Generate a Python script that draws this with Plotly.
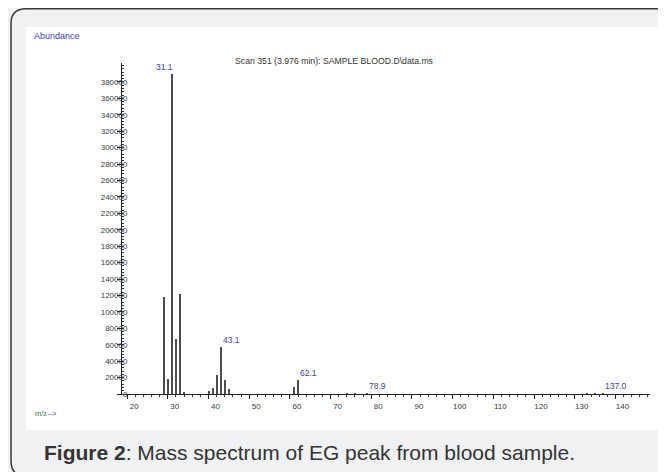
import plotly.graph_objects as go

# ---- data ----
mz = [29.1, 30.1, 31.1, 32.1, 33.0, 34.0,
      40.1, 41.1, 42.1, 43.1, 44.1, 45.1,
      61.1, 62.1, 74.0, 76.0, 78.9, 133.0, 135.0, 137.0]
abundance = [118000, 18500, 390000, 67000, 122000, 1500,
             4000, 7300, 23600, 57300, 16700, 6100,
             8100, 16700, 600, 700, 1200, 600, 700, 1200]
peak_labels_mz = [31.1, 43.1, 62.1, 78.9, 137.0]
peak_labels_ab = [390000, 57300, 16700, 1200, 1200]
peak_label_text = ["31.1", "43.1", "62.1", "78.9", "137.0"]
y_tick_values = list(range(0, 380001, 20000))

title_text = "Scan 351 (3.976 min): SAMPLE BLOOD.D\\data.ms"
caption = "<b>Figure 2</b>: Mass spectrum of EG peak from blood sample."

# ---- geometry (the page has an 8px body margin) ----
OFF = 8
W, H = 658, 464
L, R, T, B = 114, 16, 55, 78
PW, PH = W - L - R, H - T - B
def px(x):      # page pixel -> paper
    return (x - OFF - L) / PW
def py(y):
    return (H - B - (y - OFF)) / PH

fig = go.Figure()
fig.add_trace(go.Bar(x=mz, y=abundance, width=0.38,
                     marker=dict(color="#4d4d4d", line=dict(width=0)),
                     hoverinfo="x+y"))

FAM = "Liberation Sans, Arial, sans-serif"
axis_font = dict(family=FAM, size=8, color="#3a3a3a")
label_color = "#4141b4"

fig.update_layout(
    width=W, height=H,
    margin=dict(l=L, r=R, t=T, b=B, pad=0),
    paper_bgcolor="#f0f1f3",
    plot_bgcolor="rgba(0,0,0,0)",
    showlegend=False,
    bargap=0,
    xaxis=dict(range=[18.74, 148.5], dtick=10, tick0=0,
               showgrid=False, zeroline=False,
               showline=True, linecolor="#222", linewidth=1,
               ticks="outside", ticklen=4, tickcolor="#222", tickwidth=1,
               minor=dict(dtick=2, ticks="outside", ticklen=2, tickcolor="#333"),
               tickfont=axis_font, ticklabelshift=7),
    yaxis=dict(range=[0, 403000], tickmode="array", tickvals=y_tick_values,
               tickformat="d",
               showgrid=False, zeroline=False,
               showline=True, linecolor="#222", linewidth=1,
               ticks="outside", ticklen=4, tickcolor="#222", tickwidth=1,
               minor=dict(tickmode="linear", tick0=0, dtick=4000, ticks="inside",
                          ticklen=2, tickcolor="#333"),
               tickfont=axis_font, ticklabelstandoff=-12),
)

# white panel
fig.add_shape(type="rect", xref="paper", yref="paper",
              x0=px(26), x1=px(662), y0=py(430), y1=py(27),
              fillcolor="white", line=dict(width=0), layer="below")

# rounded outer border
x0, x1, yt, yb = px(11), px(672), py(8.8), py(476)
rx, ry = 15 / PW, 15 / PH
path = (f"M {x0+rx},{yt} L {x1-rx},{yt} Q {x1},{yt} {x1},{yt-ry} "
        f"L {x1},{yb+ry} Q {x1},{yb} {x1-rx},{yb} L {x0+rx},{yb} "
        f"Q {x0},{yb} {x0},{yb+ry} L {x0},{yt-ry} Q {x0},{yt} {x0+rx},{yt} Z")
fig.add_shape(type="path", xref="paper", yref="paper", path=path,
              line=dict(color="#3a3a3a", width=1.5), fillcolor="rgba(0,0,0,0)")

# peak labels
for m, a, t in zip(peak_labels_mz, peak_labels_ab, peak_label_text):
    first = (t == peak_label_text[0])
    fig.add_annotation(x=m, y=a, text=t, showarrow=False,
                       xanchor="right" if first else "left",
                       xshift=3 if first else 0,
                       yanchor="bottom", yshift=0,
                       font=dict(family=FAM, size=8.5, color=label_color))

# texts
fig.add_annotation(xref="paper", yref="paper", x=px(32), y=py(35.7),
                   text="Abundance", showarrow=False, xanchor="left", yanchor="middle",
                   font=dict(family=FAM, size=9, color=label_color))
fig.add_annotation(xref="paper", yref="paper", x=px(334), y=py(60.7),
                   text=title_text, showarrow=False, xanchor="center", yanchor="middle",
                   font=dict(family=FAM, size=8.7, color="#333"))
fig.add_annotation(xref="paper", yref="paper", x=px(33), y=py(413),
                   text="<span style='color:#3d7a3d'>m/z</span>-->", showarrow=False,
                   xanchor="left", yanchor="middle",
                   font=dict(family=FAM, size=7.5, color=label_color))
fig.add_annotation(xref="paper", yref="paper", x=px(42), y=py(452),
                   text=caption, showarrow=False, xanchor="left", yanchor="middle",
                   font=dict(family=FAM, size=21, color="#333"))

fig.write_html("out.html")
